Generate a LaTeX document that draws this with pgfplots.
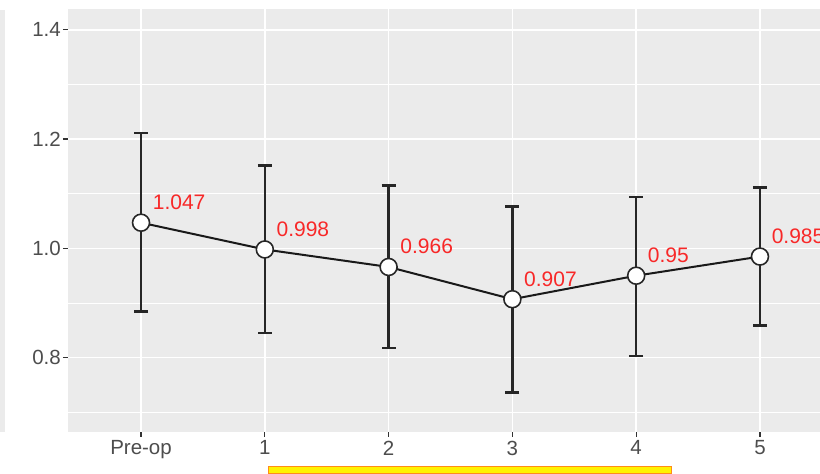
\documentclass[border=0pt]{standalone}
\usepackage{pgfplots}
\pgfplotsset{compat=1.18}
\usepackage{pgfplotstable}
\usepackage{fontspec}
\setmainfont{Liberation Sans}
\definecolor{panel}{HTML}{EBEBEB}
\definecolor{ticklab}{HTML}{4D4D4D}
\definecolor{tickc}{HTML}{333333}
\definecolor{lab}{HTML}{F82828}
\pgfplotstableread{
x y ep em lbl
0 1.047 0.164 0.163 1.047
1 0.998 0.154 0.153 0.998
2 0.966 0.149 0.148 0.966
3 0.907 0.170 0.171 0.907
4 0.950 0.144 0.147 0.95
5 0.985 0.126 0.126 0.985
}\data
\begin{document}
\begin{tikzpicture}[x=1pt,y=1pt]
\useasboundingbox (0,0) rectangle (820,474);
\clip (0,0) rectangle (820,474);
\fill[panel] (0,42) rectangle (5,464);
\begin{axis}[
  at={(68pt,42pt)}, anchor=south west,
  width=752pt, height=423pt, scale only axis,
  xmin=-0.59, xmax=5.485, ymin=0.664, ymax=1.438,
  axis background/.style={fill=panel},
  axis line style={draw=none},
  xtick={0,1,2,3,4,5},
  xticklabels={Pre-op,1,2,3,4,5},
  ytick={0.8,1.0,1.2,1.4},
  minor ytick={0.7,0.9,1.1,1.3},
  yticklabel style={/pgf/number format/fixed, /pgf/number format/fixed zerofill, /pgf/number format/precision=1, inner sep=2pt},
  /pgf/number format/assume math mode=true,
  tick align=outside,
  major tick length=5pt,
  minor tick length=0pt,
  tick style={draw=tickc, line width=1.2pt},
  xtick pos=bottom, ytick pos=left,
  ticklabel style={font=\fontsize{20.5}{23}\selectfont, text=ticklab},
  xticklabel style={inner sep=3.5pt},
  grid=both,
  major grid style={white, line width=1.6pt},
  minor grid style={white, line width=0.8pt},
  clip=false,
]
\addplot[draw=none, mark=none, forget plot,
  error bars/.cd, y dir=both, y explicit,
  error bar style={draw=black!85, line width=2.6pt},
  error mark options={rotate=90, mark size=7pt, line width=2.6pt, draw=black!85}]
  table[x=x, y=y, y error plus=ep, y error minus=em] {\data};
\addplot[black!90, line width=2pt, mark=*, mark size=8.5pt,
  mark options={fill=white, draw=black!85, line width=1.6pt},
  nodes near coords, point meta=explicit symbolic,
  nodes near coords style={anchor=south west, inner sep=0pt, xshift=11pt, yshift=12pt,
    text=lab, font=\fontsize{21}{23}\selectfont}]
  table[x=x, y=y, meta=lbl] {\data};
\end{axis}
\fill[yellow, draw=orange!90, line width=1pt] (268,0) rectangle (671,7.5);
\end{tikzpicture}
\end{document}
